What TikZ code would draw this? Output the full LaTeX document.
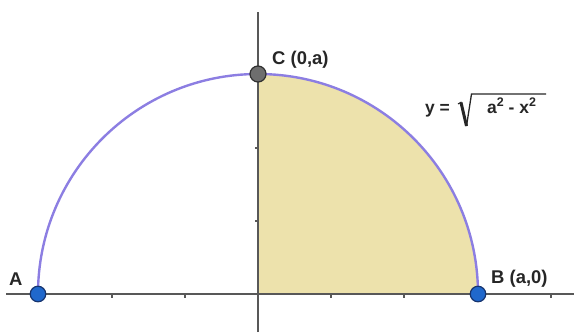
\documentclass[tikz,border=0pt]{standalone}
\usepackage{fontspec}
\setmainfont{Liberation Sans}
\definecolor{arcpurple}{RGB}{140,126,226}
\definecolor{areafill}{RGB}{237,226,172}
\definecolor{axisgray}{RGB}{88,88,88}
\definecolor{ptblue}{RGB}{32,104,204}
\definecolor{ptblueedge}{RGB}{22,52,110}
\definecolor{ptgray}{RGB}{110,110,110}
\definecolor{ptgrayedge}{RGB}{48,48,48}
\newcommand{\supsq}{\raisebox{0.36em}{\fontsize{12.5}{13}\selectfont\bfseries 2}}
\tikzset{
  axisline/.style={draw=axisgray, line width=1.5bp},
  tickmark/.style={draw=axisgray, line width=1.2bp},
  curve/.style={draw=arcpurple, line width=2.4bp},
  bluept/.style={circle, fill=ptblue, draw=ptblueedge, line width=1.2bp, minimum size=15.5bp, inner sep=0pt},
  graypt/.style={circle, fill=ptgray, draw=ptgrayedge, line width=1.2bp, minimum size=16bp, inner sep=0pt},
  lbl/.style={anchor=base west, inner sep=0pt, text=black!85, font=\fontsize{18.5}{20}\selectfont\bfseries},
  eqlbl/.style={anchor=base west, inner sep=0pt, text=black!85, font=\fontsize{17.5}{19}\selectfont\bfseries},
}
\begin{document}
\begin{tikzpicture}[x=1bp,y=1bp]
\useasboundingbox (0,0) rectangle (574,332);
% key coordinates
\coordinate (O) at (258,38);
\coordinate (Bc) at (478,38);
\coordinate (Xl) at (6,38);
\coordinate (Xr) at (574,38);
\coordinate (Yb) at (258,0);
\coordinate (Yt) at (258,320);
% shaded quarter disc
\fill[areafill] (O) -- (Bc) arc[start angle=0, end angle=90, radius=220bp] -- cycle;
% axes
\draw[axisline] (Xl) -- (Xr);
\draw[axisline] (Yb) -- (Yt);
% ticks
\foreach \tx in {112,185,331,404,551} {
  \draw[tickmark] (\tx,38) -- (\tx,34.5);
}
\foreach \ty in {111,184} {
  \draw[tickmark] (258,\ty) -- (254.5,\ty);
}
% semicircle
\draw[curve] (Bc) arc[start angle=0, end angle=180, radius=220bp];
% points
\node[bluept] (A) at (38,38) {};
\node[bluept] (B) at (Bc) {};
\node[graypt] (C) at (258,258) {};
% labels
\node[lbl] (labC) at (272,268) {C (0,a)};
\node[lbl] (labA) at (9,47) {A};
\node[lbl] (labB) at (491,49) {B (a,0)};
% equation
\node[eqlbl] (eqL) at (425,219) {y =};
\draw[black!85, line width=1.1bp, line join=round] (458,228) -- (461.5,230);
\draw[black!85, line width=3bp, line join=round] (461,229.5) -- (466.5,206);
\draw[black!85, line width=1.3bp, line join=miter] (466.5,206) -- (471.5,238) -- (546,238);
\node[eqlbl] (eqR) at (487,219) {a\supsq\ - x\supsq};
\end{tikzpicture}
\end{document}
